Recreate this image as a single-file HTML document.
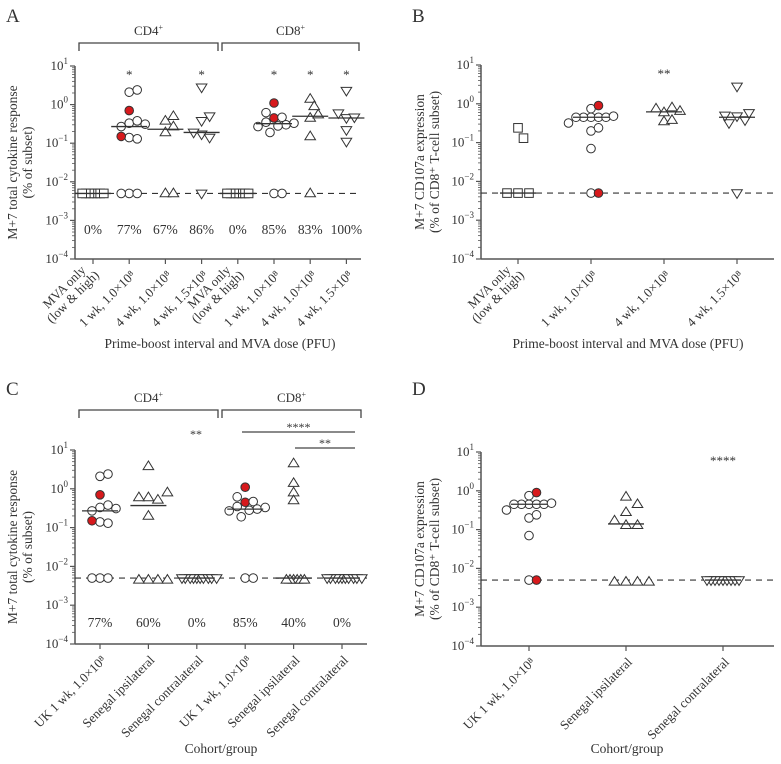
<!DOCTYPE html>
<html><head><meta charset="utf-8"><style>
body{margin:0;background:#fff;}
svg text{font-family:"Liberation Serif",serif;fill:#333;}
</style></head><body>
<svg id="c" width="781" height="759" xmlns="http://www.w3.org/2000/svg"></svg>
<script>
// ---- data ----
const catsA = ["MVA only|(low & high)","1 wk, 1.0×10⁸","4 wk, 1.0×10⁸","4 wk, 1.5×10⁸","MVA only|(low & high)","1 wk, 1.0×10⁸","4 wk, 1.0×10⁸","4 wk, 1.5×10⁸"];
const valsA = [
 [0.005,0.005,0.005,0.005,0.005,0.005,0.005],
 [2.1,2.4,0.7,0.33,0.38,0.27,0.31,0.14,0.13,0.15,0.005,0.005,0.005],
 [0.38,0.27,0.5,0.19,0.005,0.005],
 [2.8,0.38,0.5,0.17,0.14,0.19,0.005],
 [0.005,0.005,0.005,0.005,0.005,0.005,0.005],
 [1.1,0.45,0.47,0.62,0.35,0.3,0.28,0.27,0.19,0.33,0.005,0.005],
 [1.4,0.45,0.55,0.9,0.15,0.005],
 [2.3,0.45,0.47,0.6,0.22,0.11]];
const redA = [[],[2,9],[],[],[],[0,1],[],[]];
const medA = [0.005,0.27,0.23,0.19,0.005,0.32,0.5,0.45];
const pctA = ["0%","77%","67%","86%","0%","85%","83%","100%"];
const starsA = ["","*","","*","","*","*","*"];

const catsB = ["MVA only|(low & high)","1 wk, 1.0×10⁸","4 wk, 1.0×10⁸","4 wk, 1.5×10⁸"];
const valsB = [
 [0.24,0.13,0.005,0.005,0.005],
 [0.75,0.9,0.45,0.45,0.45,0.45,0.45,0.48,0.32,0.2,0.24,0.07,0.005,0.005],
 [0.6,0.8,0.35,0.38,0.75,0.65],
 [2.8,0.48,0.38,0.32,0.5,0.58,0.005]];
const redB = [[],[1,13],[],[]];
const medB = [0.005,0.45,0.62,0.45];

const catsC = ["UK 1 wk, 1.0×10⁸","Senegal ipsilateral","Senegal contralateral","UK 1 wk, 1.0×10⁸","Senegal ipsilateral","Senegal contralateral"];
const valsC = [
 [2.1,2.4,0.7,0.33,0.38,0.27,0.31,0.14,0.13,0.15,0.005,0.005,0.005],
 [3.8,0.6,0.52,0.6,0.8,0.2,0.0045,0.0045,0.0045,0.0045],
 [0.005,0.005,0.005,0.005,0.005,0.005,0.005,0.005,0.005,0.005],
 [1.1,0.45,0.47,0.62,0.35,0.3,0.28,0.27,0.19,0.33,0.005,0.005],
 [4.5,1.4,0.8,0.5,0.0045,0.0045,0.0045,0.0045,0.0045,0.0045],
 [0.005,0.005,0.005,0.005,0.005,0.005,0.005,0.005,0.005,0.005]];
const redC = [[2,9],[],[],[0,1],[],[]];
const medC = [0.27,0.37,0.005,0.3,0.005,0.005];
const pctC = ["77%","60%","0%","85%","40%","0%"];

const catsD = ["UK 1 wk, 1.0×10⁸","Senegal ipsilateral","Senegal contralateral"];
const valsD = [
 [0.75,0.9,0.45,0.45,0.45,0.45,0.45,0.48,0.32,0.2,0.24,0.07,0.005,0.005],
 [0.28,0.45,0.7,0.13,0.13,0.17,0.0045,0.0045,0.0045,0.0045],
 [0.005,0.005,0.005,0.005,0.005,0.005,0.005,0.005,0.005]];
const redD = [[1,13],[],[]];
const medD = [0.45,0.14,0.005];
const yTicks = [1,0,-1,-2,-3,-4];

// ---- drawing ----
const S = document.getElementById('c');
const NS = "http://www.w3.org/2000/svg";
function mk(tag, at, parent){const e=document.createElementNS(NS,tag);for(const k in at)e.setAttribute(k,at[k]);(parent||S).appendChild(e);return e;}
function txt(x,y,s,size,anchor,parent){const t=mk('text',{x:x,y:y,'font-size':size,'text-anchor':anchor||'middle'},parent);t.textContent=s;return t;}

function panel(P){
  const g=mk('g',{});
  
  
  const Y=v=>P.yTop+(1-Math.log10(v))*(P.yBot-P.yTop)/5;
  const n=P.cats.length;
  const X=i=>P.c0+i*P.step;
  const ax=mk('line',{x1:P.ax,y1:P.yTop,x2:P.ax,y2:P.yBot,stroke:'#555','stroke-width':1.5},g);
  
  const xa=mk('line',{x1:P.ax,y1:P.yBot,x2:P.x1,y2:P.yBot,stroke:'#555','stroke-width':1.5},g);
  
  yTicks.forEach(e=>{
    const y=Y(Math.pow(10,e));
    mk('line',{x1:P.ax-5,y1:y,x2:P.ax,y2:y,stroke:'#555','stroke-width':1.2},g);
    const t=mk('text',{x:P.ax-7,y:y+4,'font-size':13,'text-anchor':'end'},g);
    
    t.innerHTML='10<tspan dy="-6" font-size="9">'+(e<0?'−'+(-e):e)+'</tspan>';
    if(e>-4)for(let m=2;m<10;m++){const ym=Y(m*Math.pow(10,e-1));mk('line',{x1:P.ax-3,y1:ym,x2:P.ax,y2:ym,stroke:'#555','stroke-width':0.8},g);}
  });
  const d=mk('line',{x1:P.ax,y1:Y(0.005),x2:P.x1,y2:Y(0.005),stroke:'#333','stroke-width':1.2,'stroke-dasharray':'6,5'},g);
  
  for(let i=0;i<n;i++){
    const cx=X(i);
    mk('line',{x1:cx,y1:P.yBot,x2:cx,y2:P.yBot+5,stroke:'#555','stroke-width':1.2},g);
    const lines=P.cats[i].split('|');
    const tg=mk('g',{transform:'translate('+(cx+4)+','+(P.yBot+14)+') rotate(-45)'},g);
    lines.forEach((s,k)=>{const t=txt(0,(k-(lines.length-1))*13+4,s,13,'end',tg);
      
      if(lines.length>1&&k==0)t.setAttribute('x',-6);});
    const vals=P.vals[i], placed=[], dist=P.sp[i];
    const shape=P.shapes[i];
    vals.forEach((v,j)=>{
      const y=Y(v);let dx=0;
      for(let k=0;k<40;k++){dx=(k%2?1:-1)*Math.ceil(k/2)*dist*0.5;
        if(!placed.some(p=>Math.hypot(p[0]-dx,p[1]-y)<dist))break;}
      placed.push([dx,y]);
      const red=P.red[i].includes(j);
      const x=cx+dx, r=4.3, st={fill:red?'#d7191c':'#fff',stroke:'#333','stroke-width':1};
      let e;
      if(shape=='c')e=mk('circle',Object.assign({cx:x,cy:y,r:r},st),g);
      else if(shape=='s')e=mk('rect',Object.assign({x:x-r,y:y-r,width:2*r,height:2*r},st),g);
      else if(shape=='u')e=mk('polygon',Object.assign({points:`${x},${y-r-1} ${x-r-1},${y+r-1} ${x+r+1},${y+r-1}`},st),g);
      else e=mk('polygon',Object.assign({points:`${x},${y+r+1} ${x-r-1},${y-r+1} ${x+r+1},${y-r+1}`},st),g);
      
    });
    const m=mk('line',{x1:cx-18,y1:Y(P.med[i]),x2:cx+18,y2:Y(P.med[i]),stroke:'#333','stroke-width':1.3},g);
    
    if(P.pct){const t=txt(cx,P.pctY,P.pct[i],13.5,'middle',g);}
    if(P.stars&&P.stars[i]){const t=txt(cx,P.yTop+13,P.stars[i],13,'middle',g);}
  }
  const yt=mk('text',{transform:`translate(${P.ytx},${(P.yTop+P.yBot)/2}) rotate(-90)`,'font-size':13.5,'text-anchor':'middle'},g);
  
  yt.innerHTML=P.ytitle[0]+`<tspan x="0" dy="15">${P.ytitle[1]}</tspan>`;
  const xt=txt(P.xtx,P.xty,P.xtitle,13.5,'middle',g);
  
  const L=txt(P.lx,P.ly,P.letter,19,'start',g);
  
  return g;
}
function bracket(x1,x2,y,label,ny){
  const p=mk('path',{d:`M${x1},${y+8}V${y}H${x2}V${y+8}`,fill:'none',stroke:'#444','stroke-width':1.3});
  
  const t=mk('text',{x:(x1+x2)/2,y:ny,'font-size':13,'text-anchor':'middle'});
  
  t.innerHTML=label+'<tspan dy="-5" font-size="8">+</tspan>';
}
function sig(x1,x2,y,label){
  const l=mk('line',{x1:x1,y1:y,x2:x2,y2:y,stroke:'#444','stroke-width':1.2});
  
  const t=txt((x1+x2)/2,y-1,label,12,'middle');
  
}
const cytT=["M+7 total cytokine response","(% of subset)"];
const cdT=["M+7 CD107a expression","(% of CD8⁺ T-cell subset)"];
panel({name:'panel-a',letter:'A',lx:6,ly:22,cats:catsA,vals:valsA,red:redA,med:medA,pct:pctA,pctY:234,stars:starsA,
  shapes:['s','c','u','d','s','c','u','d'],sp:[3.6,8,8,8,3.6,8,8,8],
  ax:75,x1:361,yTop:66,yBot:259,c0:93,step:36.2,ytx:17,ytitle:cytT,xtx:220,xty:348,xtitle:'Prime-boost interval and MVA dose (PFU)'});
bracket(79,218,43,'CD4',35);bracket(222,359,43,'CD8',35);
panel({name:'panel-b',letter:'B',lx:412,ly:22,cats:catsB,vals:valsB,red:redB,med:medB,stars:['','','**',''],
  shapes:['s','c','u','d'],sp:[11,7.5,8,8],
  ax:481,x1:774,yTop:65,yBot:259,c0:518,step:73,ytx:424,ytitle:cdT,xtx:628,xty:348,xtitle:'Prime-boost interval and MVA dose (PFU)'});
panel({name:'panel-c',letter:'C',lx:6,ly:395,cats:catsC,vals:valsC,red:redC,med:medC,pct:pctC,pctY:627,
  shapes:['c','u','d','c','u','d'],sp:[8,9.5,3.3,8,3.6,3.3],
  ax:75,x1:367,yTop:450,yBot:644,c0:100,step:48.4,ytx:17,ytitle:cytT,xtx:221,xty:753,xtitle:'Cohort/group'});
bracket(79,218,410,'CD4',402);bracket(222,361,410,'CD8',402);
const cs=txt(196,438,'**',12,'middle');


sig(242,355,432,'****');sig(295,355,448,'**');
panel({name:'panel-d',letter:'D',lx:412,ly:395,cats:catsD,vals:valsD,red:redD,med:medD,stars:['','','****'],
  shapes:['c','u','d'],sp:[7.5,11.5,4],
  ax:481,x1:774,yTop:452,yBot:646,c0:529,step:97,ytx:424,ytitle:cdT,xtx:627,xty:753,xtitle:'Cohort/group'});
</script>
</body></html>
